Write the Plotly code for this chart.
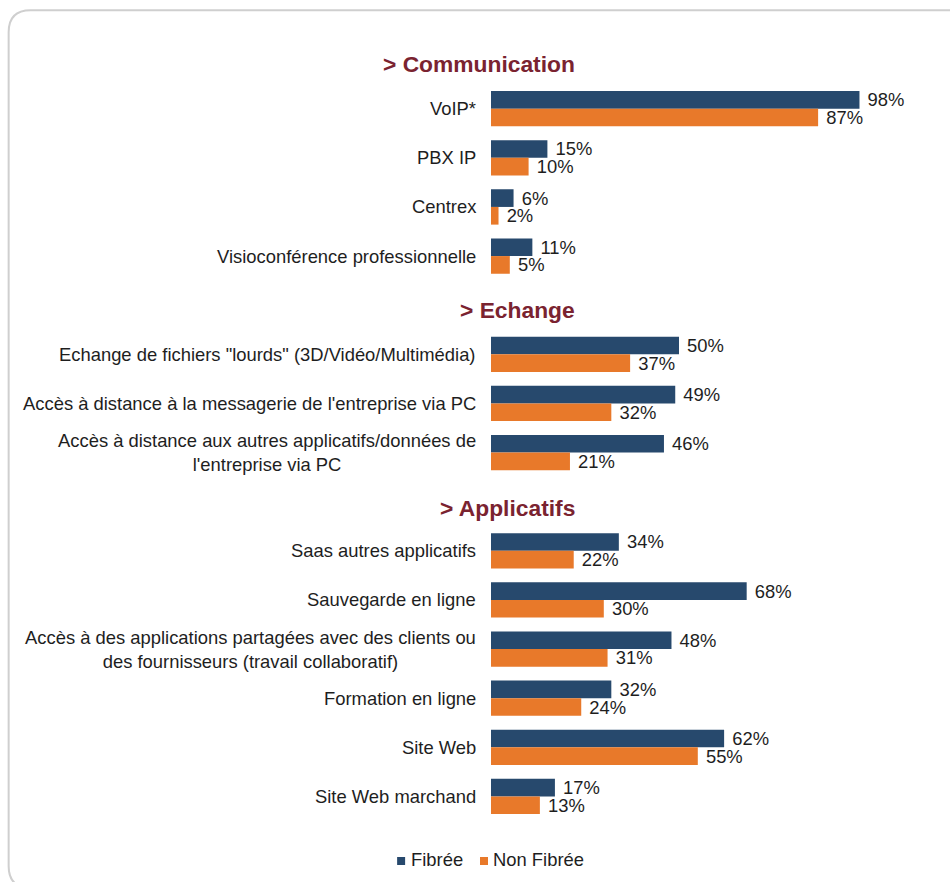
import plotly.graph_objects as go

# ---- data ----
slots = ["H1", "VoIP*", "PBX IP", "Centrex", "Visioconférence professionnelle",
         "H2", "Echange de fichiers \"lourds\" (3D/Vidéo/Multimédia)",
         "Accès à distance à la messagerie de l'entreprise via PC",
         "Accès à distance aux autres applicatifs/données de<br>l'entreprise via PC",
         "H3", "Saas autres applicatifs", "Sauvegarde en ligne",
         "Accès à des applications partagées avec des clients ou<br>des fournisseurs (travail collaboratif)",
         "Formation en ligne", "Site Web", "Site Web marchand"]
headings = {"H1": "> Communication", "H2": "> Echange", "H3": "> Applicatifs"}
categories = [s for s in slots if s not in headings]
fibree = [98, 15, 6, 11, 50, 49, 46, 34, 68, 48, 32, 62, 17]
non_fibree = [87, 10, 2, 5, 37, 32, 21, 22, 30, 31, 24, 55, 13]
series_names = ["Fibrée", "Non Fibrée"]

BLUE = "#27496D"
ORANGE = "#E8792A"
RED = "#7A2330"
TXT = "#1E1E1E"
FONT = "Arial, Liberation Sans, sans-serif"
FS = 18.4

W, H = 950, 882
L, R = 491, 950 - 867.5
T, B = 34.8, 882 - 821

pw, ph = W - L - R, H - T - B
def px(x): return (x - L) / pw
def py(y): return (H - B - y) / ph

fig = go.Figure()
colors = [BLUE, ORANGE]
for name, vals, col in [(series_names[0], fibree, BLUE), (series_names[1], non_fibree, ORANGE)]:
    fig.add_trace(go.Bar(
        y=categories, x=vals, orientation="h", name=name, showlegend=False,
        marker=dict(color=col, line=dict(width=0)),
        text=[f" {v}%" for v in vals], textposition="outside",
        textfont=dict(size=FS, color=TXT, family=FONT),
        cliponaxis=False, constraintext="none",
    ))

annotations = []
for s in categories:
    annotations.append(dict(x=0, y=s, xref="x", yref="y", text=s, showarrow=False,
                            xanchor="right", align="center", xshift=-13,
                            font=dict(size=FS, color=TXT, family=FONT)))
shifts = {"H1": -4, "H2": -5, "H3": -6}
for h, t in headings.items():
    annotations.append(dict(x=22.8, y=h, xref="x", yref="y", text=f"<b>{t}</b>", showarrow=False,
                            xanchor="right", yshift=shifts[h],
                            font=dict(size=22.8, color=RED, family=FONT)))

# legend drawn as squares + text
shapes = []
leg_sq = [397, 480]
leg_tx = [409, 491]
for i, name in enumerate(series_names):
    shapes.append(dict(type="rect", xref="paper", yref="paper",
                       x0=px(leg_sq[i]), x1=px(leg_sq[i] + 8), y0=py(865), y1=py(857),
                       fillcolor=colors[i], line=dict(width=0)))
    annotations.append(dict(x=px(leg_tx[i]), y=py(860), xref="paper", yref="paper", text=name,
                            showarrow=False, xanchor="left", yanchor="middle",
                            font=dict(size=FS, color=TXT, family=FONT)))

# border (rounded box) in paper coords
path = (f"M {px(965)},{py(888)} L {px(30)},{py(888)} Q {px(8)},{py(888)} {px(8)},{py(866)} "
        f"L {px(8)},{py(32)} Q {px(8)},{py(10)} {px(30)},{py(10)} L {px(965)},{py(10)}")
shapes.append(dict(type="path", path=path, xref="paper", yref="paper",
                   line=dict(color="#CFCFCF", width=2), layer="below"))

fig.update_layout(
    width=W, height=H,
    margin=dict(l=L, r=R, t=T, b=B, autoexpand=False),
    paper_bgcolor="white", plot_bgcolor="white",
    barmode="group", bargap=0.28, bargroupgap=0,
    font=dict(family=FONT, size=FS, color=TXT),
    xaxis=dict(range=[0, 100], visible=False, fixedrange=True),
    yaxis=dict(categoryorder="array", categoryarray=slots, type="category",
               range=[len(slots) - 0.5, -0.5], showticklabels=False, showgrid=False,
               zeroline=False, showline=False, ticks=""),
    showlegend=False,
    annotations=annotations,
    shapes=shapes,
)
fig.write_html("out.html")
